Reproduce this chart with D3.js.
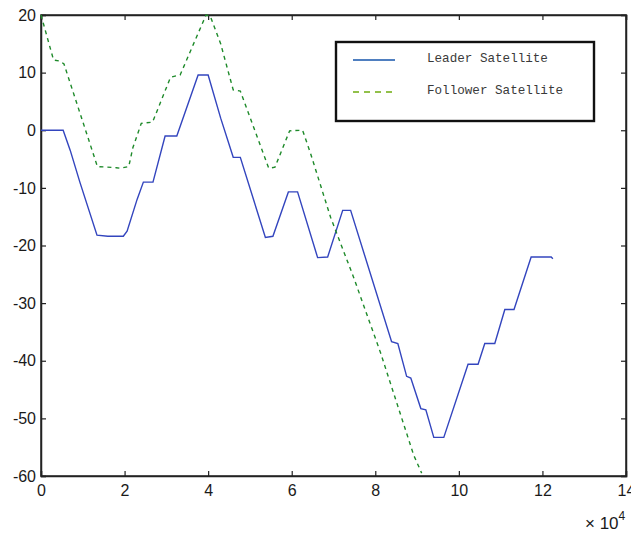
<!DOCTYPE html>
<html>
<head>
<meta charset="utf-8">
<script src="https://cdn.jsdelivr.net/npm/d3@7"></script>
<style>
  body { margin: 0; background: #fff; }
  svg { display: block; }
</style>
</head>
<body>
<svg></svg>
<script>
// x in units of 10^4
const leaderX = [0, 0.53, 0.7, 0.93, 1.34, 1.6, 1.97, 2.06, 2.3, 2.45, 2.68, 2.97, 3.25, 3.76, 4.0, 4.3, 4.6, 4.77, 5.37, 5.55, 5.92, 6.14, 6.62, 6.86, 7.22, 7.41, 8.39, 8.54, 8.75, 8.85, 9.09, 9.21, 9.40, 9.64, 10.22, 10.46, 10.62, 10.86, 11.10, 11.32, 11.73, 12.21, 12.25]
const leaderY = [0, 0, -3.5, -9, -18.2, -18.4, -18.4, -17.5, -12, -9, -9, -1, -1, 9.6, 9.6, 2.1, -4.7, -4.7, -18.6, -18.4, -10.7, -10.7, -22.1, -22, -13.9, -13.9, -36.7, -37, -42.7, -43, -48.3, -48.5, -53.3, -53.3, -40.6, -40.6, -37, -37, -31.1, -31.1, -22, -22, -22.3]
const followerX = [0, 0.3, 0.45, 0.55, 1.35, 1.8, 1.9, 2.1, 2.2, 2.4, 2.67, 3.1, 3.33, 3.95, 4.05, 4.3, 4.6, 4.77, 5.45, 5.6, 5.95, 6.26, 6.45, 6.93, 7.48, 8.13, 8.92, 9.11]
const followerY = [20, 12.2, 12, 11.5, -6.3, -6.5, -6.6, -6.3, -3, 1.2, 1.4, 9.2, 9.6, 20, 19.8, 15, 7, 6.8, -6.6, -6.4, -0.1, 0, -4, -15.1, -25.5, -38.7, -56.4, -59.5]
const xTicks = [0, 2, 4, 6, 8, 10, 12, 14]
const yTicks = [20, 10, 0, -10, -20, -30, -40, -50, -60]
const seriesNames = ['Leader Satellite', 'Follower Satellite']

const width = 631
const height = 538
const plotLeft = 41
const plotRight = 626
const plotTop = 15
const plotBottom = 476

const svg = d3.select('svg')
              .attr('width', width)
              .attr('height', height)

const xScale = d3.scaleLinear().domain([0, 14]).range([plotLeft, plotRight])
const yScale = d3.scaleLinear().domain([-60, 20]).range([plotBottom, plotTop])

const fmt = d => String(d).replace('\u2212', '-')

// frame
svg.append('rect')
   .attr('x', plotLeft).attr('y', plotTop)
   .attr('width', plotRight - plotLeft).attr('height', plotBottom - plotTop)
   .attr('fill', 'none').attr('stroke', '#222').attr('stroke-width', 1.5)

const xAxis = d3.axisBottom(xScale).tickValues(xTicks).tickSize(-5).tickPadding(9).tickFormat(fmt)
const yAxis = d3.axisLeft(yScale).tickValues(yTicks).tickSize(-5).tickPadding(5).tickFormat(fmt)

const gx = svg.append('g').attr('transform', `translate(0, ${plotBottom})`).call(xAxis)
const gy = svg.append('g').attr('transform', `translate(${plotLeft}, 0)`).call(yAxis)
svg.append('g').attr('transform', `translate(0, ${plotTop})`)
   .call(d3.axisTop(xScale).tickValues(xTicks).tickSize(-5).tickFormat(''))
svg.append('g').attr('transform', `translate(${plotRight}, 0)`)
   .call(d3.axisRight(yScale).tickValues(yTicks).tickSize(-5).tickFormat(''))

svg.selectAll('.domain').attr('stroke', '#222').attr('stroke-width', 1.5)
svg.selectAll('.tick line').attr('stroke', '#222').attr('stroke-width', 1.2)
svg.selectAll('.tick text')
   .attr('font-family', 'Liberation Sans, Arial, sans-serif')
   .attr('font-size', 16)
   .attr('fill', '#1a1a1a')
gy.selectAll('.tick text').attr('dy', '0.32em')

// x10^4 multiplier
const mult = svg.append('text')
   .attr('x', 585).attr('y', 529)
   .attr('font-family', 'Liberation Sans, Arial, sans-serif')
   .attr('font-size', 17).attr('fill', '#1a1a1a')
mult.append('tspan').text('\u00d7 10')
mult.append('tspan').text('4').attr('font-size', 12).attr('dy', -9)

const line = d3.line().x(d => xScale(d[0])).y(d => yScale(d[1]))

svg.append('path')
   .datum(leaderX.map((x, i) => [x, leaderY[i]]))
   .attr('d', line)
   .attr('fill', 'none')
   .attr('stroke', '#3345be')
   .attr('stroke-width', 1.4)

svg.append('path')
   .datum(followerX.map((x, i) => [x, followerY[i]]))
   .attr('d', line)
   .attr('fill', 'none')
   .attr('stroke', '#1e8a2a')
   .attr('stroke-width', 1.4)
   .attr('stroke-dasharray', '4,4')

// legend
const legend = svg.append('g')
legend.append('rect')
      .attr('x', 336).attr('y', 42).attr('width', 258).attr('height', 79)
      .attr('fill', '#fff').attr('stroke', '#111').attr('stroke-width', 2.4)
const legendColors = ['#4f7fc0', '#92c04a']
const legendDash = [null, '6,5']
const legendY = [60, 92]
seriesNames.forEach((name, i) => {
  legend.append('line')
        .attr('x1', 353).attr('x2', 395).attr('y1', legendY[i]).attr('y2', legendY[i])
        .attr('stroke', legendColors[i]).attr('stroke-width', 2.2)
        .attr('stroke-dasharray', legendDash[i])
  legend.append('text')
        .attr('x', 427).attr('y', legendY[i] - 2)
        .attr('dy', '0.32em')
        .attr('font-family', 'Liberation Mono, Courier New, monospace')
        .attr('font-size', 12.6)
        .attr('fill', '#3a3a3a')
        .text(name)
})
</script>
</body>
</html>
